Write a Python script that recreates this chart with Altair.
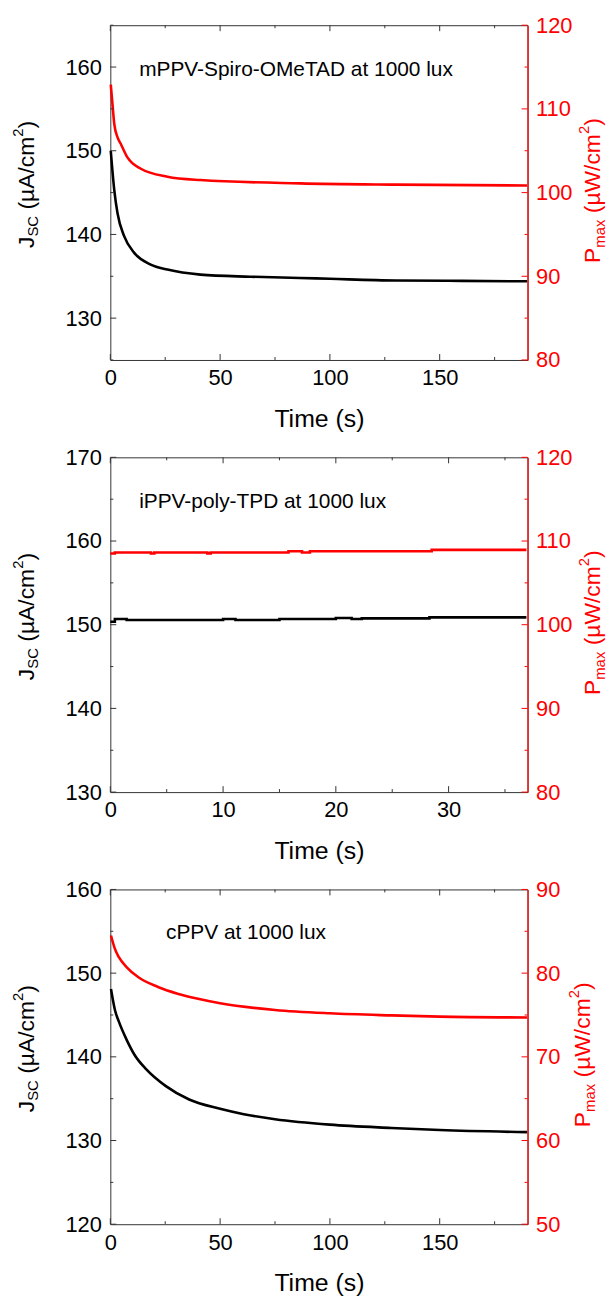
import altair as alt
import pandas as pd

FONT = "Liberation Sans"
W, H = 420, 337

# ---------------- data ----------------
# Panel 1: mPPV-Spiro-OMeTAD
p1_t_j = [0.2, 1.8, 3.3, 6.3, 10.9, 18.4, 26, 41, 63.7, 86.3, 100, 130, 160, 189.8]
p1_j = [150.0, 145.3, 142.5, 139.8, 137.8, 136.4, 135.8, 135.2, 134.95, 134.8, 134.7, 134.5, 134.45, 134.4]
p1_t_p = [0.2, 1.1, 1.8, 3.3, 4.8, 7.8, 13.9, 26, 41, 86.3, 130, 189.8]
p1_p = [112.9, 110.2, 108.2, 106.6, 105.8, 104.2, 102.85, 101.9, 101.5, 101.1, 100.95, 100.85]

# Panel 2: iPPV-poly-TPD (step-like readings)
p2_t_j = [0, 0.4, 1.45, 10, 11.1, 15, 20, 21.4, 22.3, 28.3, 36.9]
p2_j = [150.36, 150.68, 150.56, 150.68, 150.56, 150.68, 150.8, 150.68, 150.76, 150.88, 150.88]
p2_t_p = [0, 0.4, 3.6, 3.9, 8.6, 8.9, 15.8, 17.0, 17.7, 28.5, 36.9]
p2_p = [108.5, 108.62, 108.5, 108.62, 108.52, 108.62, 108.78, 108.62, 108.78, 108.94, 108.94]

# Panel 3: cPPV
p3_t_j = [0.3, 2.1, 3.9, 7.5, 11, 16.4, 25.3, 35.9, 50, 60.8, 75, 100, 128, 150, 189.8]
p3_j = [148.1, 145.6, 144.2, 142.0, 140.25, 138.5, 136.5, 134.9, 133.8, 133.15, 132.55, 131.9, 131.5, 131.25, 131.0]
p3_t_p = [0.3, 2.1, 3.9, 7.5, 12.8, 21.7, 30.6, 39.4, 50, 75, 100, 128, 150, 189.8]
p3_p = [84.5, 82.9, 81.9, 80.7, 79.5, 78.35, 77.55, 76.96, 76.4, 75.6, 75.2, 74.95, 74.8, 74.7]

labels = ["mPPV-Spiro-OMeTAD at 1000 lux", "iPPV-poly-TPD at 1000 lux", "cPPV at 1000 lux"]
x_domains = [[0, 190], [0, 37], [0, 190]]
x_major = [[0, 50, 100, 150], [0, 10, 20, 30], [0, 50, 100, 150]]
x_minor = [[25, 75, 125, 175], [5, 15, 25, 35], [25, 75, 125, 175]]
yl_domains = [[125, 165], [130, 170], [120, 160]]
yl_major = [[130, 140, 150, 160], [130, 140, 150, 160, 170], [120, 130, 140, 150, 160]]
yl_minor = [[125, 135, 145, 155, 165], [135, 145, 155, 165], [125, 135, 145, 155]]
yr_domains = [[80, 120], [80, 120], [50, 90]]
yr_major = [[80, 90, 100, 110, 120], [80, 90, 100, 110, 120], [50, 60, 70, 80, 90]]
yr_minor = [[85, 95, 105, 115], [85, 95, 105, 115], [55, 65, 75, 85]]

# layout of the annotation text and the right-hand title per panel
ann_pos = [(29, 51), (29, 51.3), (56, 50)]
right_title_x = [W + 73, W + 73, W + 63]

# Arial / Liberation Sans advance widths (per 1000 em)
ADV = {'J': 500, 'S': 667, 'C': 722, ' ': 278, '(': 333, ')': 333, '\u00b5': 576, 'A': 667,
       '/': 278, 'c': 500, 'm': 833, '2': 556, 'P': 667, 'a': 556, 'x': 500, 'W': 944}


def width(s, fs):
    return sum(ADV.get(ch, 556) for ch in s) * fs / 1000.0


def title_layers(pieces, x0, y0, color):
    out = []
    y = y0
    for text, fs, shift in pieces:
        lead = len(text) - len(text.lstrip(" "))
        y -= width(" " * lead, fs)
        t = text.lstrip(" ")
        out.append(
            alt.Chart(pd.DataFrame({"s": [t]}))
            .mark_text(angle=270, align="left", baseline="alphabetic", fontSize=fs,
                       color=color, font=FONT)
            .encode(text="s:N", x=alt.value(x0 + shift), y=alt.value(y))
        )
        y -= width(t, fs)
    return out


TF, SF = 23, 15
left_pieces = [("J", TF, 0), ("SC", SF, 4), (" (\u00b5A/cm", TF, 0), ("2", SF, -11), (")", TF, 0)]
right_pieces = [("P", TF, 0), ("max", SF, 4.5), (" (\u00b5W/cm", TF, 0), ("2", SF, -11), (")", TF, 0)]


def make_panel(i, tj, j, tp, p, interp):
    xs = alt.Scale(domain=x_domains[i], nice=False, zero=False)
    yls = alt.Scale(domain=yl_domains[i], nice=False, zero=False)
    yrs = alt.Scale(domain=yr_domains[i], nice=False, zero=False)
    x_axis = alt.Axis(values=x_major[i], title="Time (s)", labelPadding=8,
                      titleFontSize=25, titleFontWeight="normal", titleColor="black",
                      titleY=67, titleBaseline="alphabetic", domain=False, ticks=False,
                      grid=False, labelFlush=False)

    dj = pd.DataFrame({"t": tj, "v": j})
    dp = pd.DataFrame({"t": tp, "v": p})

    black = alt.Chart(dj).mark_line(color="black", strokeWidth=2.6, interpolate=interp).encode(
        x=alt.X("t:Q", scale=xs, axis=x_axis),
        y=alt.Y("v:Q", scale=yls,
                axis=alt.Axis(orient="left", values=yl_major[i], title=None, labelPadding=9,
                              domain=False, ticks=False, grid=False)),
    )
    red = alt.Chart(dp).mark_line(color="#ff0000", strokeWidth=2.6, interpolate=interp).encode(
        x=alt.X("t:Q", scale=xs, axis=x_axis),
        y=alt.Y("v:Q", scale=yrs,
                axis=alt.Axis(orient="right", values=yr_major[i], title=None, labelPadding=8,
                              labelColor="#ff0000", domain=True, domainColor="#ff0000",
                              domainWidth=1.2, ticks=False, grid=False)),
    )

    def xticks(vals, y1, y2):
        return alt.Chart(pd.DataFrame({"t": vals})).mark_rule(color="#333", strokeWidth=1).encode(
            x=alt.X("t:Q", scale=xs, axis=x_axis), y=alt.value(y1), y2=alt.value(y2))

    def yticks(vals, scale, x1, x2, color):
        return alt.Chart(pd.DataFrame({"v": vals})).mark_rule(color=color, strokeWidth=1).encode(
            y=alt.Y("v:Q", scale=scale, axis=None), x=alt.value(x1), x2=alt.value(x2))

    ann = alt.Chart(pd.DataFrame({"s": [labels[i]]})).mark_text(
        align="left", baseline="alphabetic", fontSize=21, color="black", font=FONT
    ).encode(text="s:N", x=alt.value(ann_pos[i][0]), y=alt.value(ann_pos[i][1]))

    layers = [
        black, red,
        xticks(x_major[i], H, H - 6), xticks(x_minor[i], H, H - 3),
        xticks(x_major[i], 0, 6), xticks(x_minor[i], 0, 3),
        yticks(yl_major[i], yls, 0, 6, "#333"), yticks(yl_minor[i], yls, 0, 3, "#333"),
        yticks(yr_major[i], yrs, W, W - 6, "#ff0000"), yticks(yr_minor[i], yrs, W, W - 3, "#ff0000"),
        ann,
        *title_layers(left_pieces, -77.3, 224.3, "black"),
        *title_layers(right_pieces, right_title_x[i], 239.3, "#ff0000"),
    ]
    return alt.layer(*layers).resolve_scale(y="independent").properties(width=W, height=H)


p1 = make_panel(0, p1_t_j, p1_j, p1_t_p, p1_p, "monotone")
p2 = make_panel(1, p2_t_j, p2_j, p2_t_p, p2_p, "step-after")
p3 = make_panel(2, p3_t_j, p3_j, p3_t_p, p3_p, "monotone")

chart = (
    alt.vconcat(p1, p2, p3, spacing=13)
    .properties(padding={"left": 2, "top": 1, "right": 0, "bottom": 5})
    .configure(font=FONT)
    .configure_view(stroke="#333", strokeWidth=1)
    .configure_axis(labelFont=FONT, titleFont=FONT, labelFontSize=22, labelColor="black")
)

chart.save("out.html", embed_options={"renderer": "svg", "actions": False})
